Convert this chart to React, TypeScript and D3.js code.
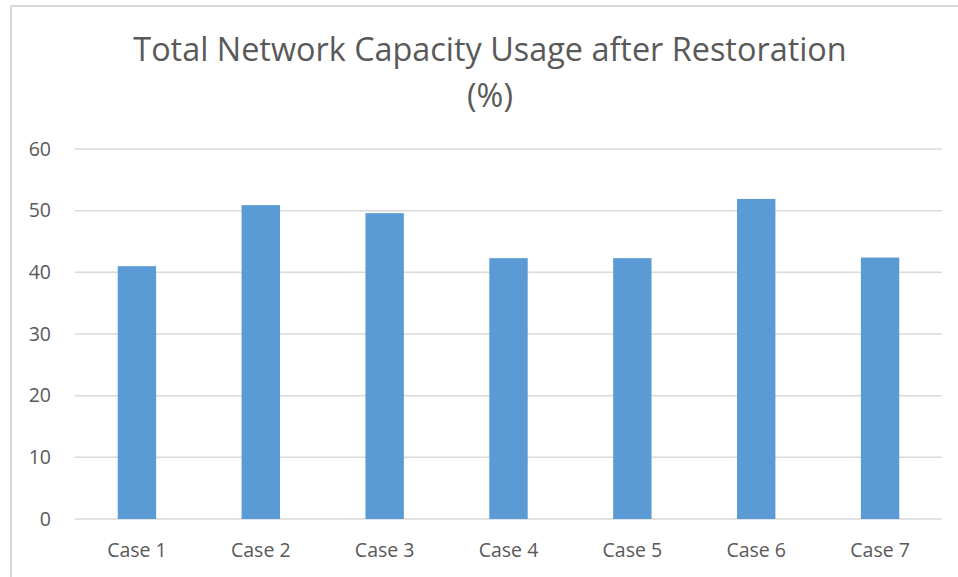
import React, { useRef, useEffect } from 'react';
import * as d3 from 'd3';

const categories = ['Case 1', 'Case 2', 'Case 3', 'Case 4', 'Case 5', 'Case 6', 'Case 7'];
const usage = [41.0, 50.9, 49.6, 42.3, 42.3, 51.9, 42.4];
const yTicks = [0, 10, 20, 30, 40, 50, 60];
const titleLines = ['Total Network Capacity Usage after Restoration', '(%)'];

const W = 958;
const H = 577;

const App = () => {
    const svgRef = useRef<SVGSVGElement>(null);

    useEffect(() => {
        const svg = d3.select(svgRef.current);
        svg.selectAll('*').remove();

        const font = "'Open Sans', sans-serif";
        const textColor = '#595959';

        // chart frame (only top and left edges are visible)
        svg.append('line')
            .attr('x1', 10).attr('x2', W)
            .attr('y1', 6).attr('y2', 6)
            .attr('stroke', '#d9d9d9').attr('stroke-width', 2);
        svg.append('line')
            .attr('x1', 11).attr('x2', 11)
            .attr('y1', 5).attr('y2', H)
            .attr('stroke', '#d9d9d9').attr('stroke-width', 2);

        const x = d3.scaleBand()
            .domain(categories)
            .range([75, 942])
            .paddingInner(0.69)
            .paddingOuter(0.345);

        const y = d3.scaleLinear()
            .domain([0, 60])
            .range([519, 149]);

        // gridlines
        svg.append('g')
            .selectAll('line')
            .data(yTicks)
            .enter()
            .append('line')
            .attr('x1', 75)
            .attr('x2', 942)
            .attr('y1', d => y(d))
            .attr('y2', d => y(d))
            .attr('stroke', '#d9d9d9')
            .attr('stroke-width', 1.5);

        // y tick labels
        svg.append('g')
            .selectAll('text')
            .data(yTicks)
            .enter()
            .append('text')
            .attr('x', 51)
            .attr('y', d => y(d))
            .attr('dy', '0.35em')
            .attr('text-anchor', 'end')
            .attr('font-family', font)
            .attr('font-size', 19.5)
            .attr('fill', textColor)
            .text(d => d);

        // bars
        svg.append('g')
            .selectAll('rect')
            .data(usage)
            .enter()
            .append('rect')
            .attr('x', (d, i) => x(categories[i]))
            .attr('y', d => y(d))
            .attr('width', x.bandwidth())
            .attr('height', d => y(0) - y(d))
            .attr('fill', '#5b9bd5');

        // x labels
        svg.append('g')
            .selectAll('text')
            .data(categories)
            .enter()
            .append('text')
            .attr('x', d => x(d) + x.bandwidth() / 2)
            .attr('y', 557)
            .attr('text-anchor', 'middle')
            .attr('font-family', font)
            .attr('font-size', 19.5)
            .attr('fill', textColor)
            .text(d => d);

        // title
        svg.append('g')
            .selectAll('text')
            .data(titleLines)
            .enter()
            .append('text')
            .attr('x', 490)
            .attr('y', (d, i) => 61 + i * 46)
            .attr('text-anchor', 'middle')
            .attr('font-family', font)
            .attr('font-size', 32.4)
            .attr('fill', textColor)
            .text(d => d);
    }, []);

    return (
        <div style={{ position: 'absolute', left: 0, top: 0 }}>
            <svg ref={svgRef} width={W} height={H} style={{ display: 'block', background: '#fff' }}></svg>
        </div>
    );
};

export default App;
